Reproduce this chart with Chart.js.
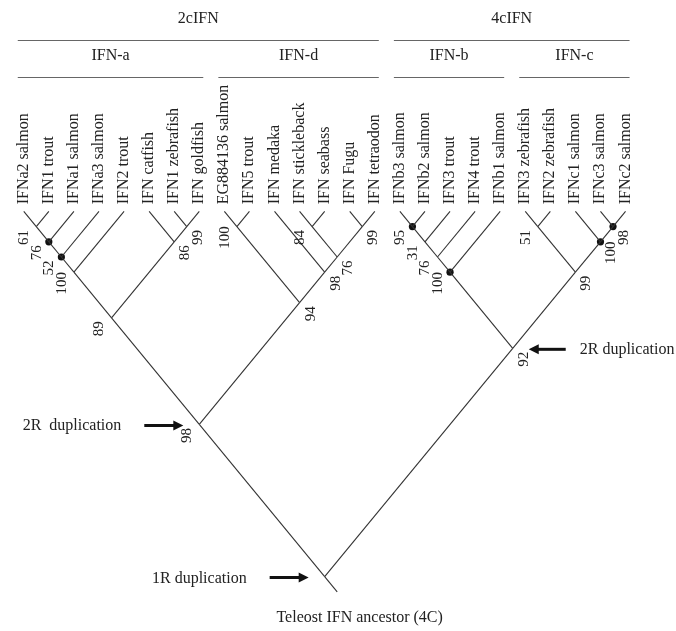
<!DOCTYPE html>
<html>
<head>
<meta charset="utf-8">
<title>Árbol de IFN en teleósteos</title>
<script src="https://cdn.jsdelivr.net/npm/chart.js@4.4.1/dist/chart.umd.min.js"></script>
<style>
  body { margin: 0; background: #fff; }
  canvas { display: block; }
</style>
</head>
<body>
<canvas id="arbolChart" width="676" height="631"></canvas>
<script>
// Hojas del árbol, de izquierda a derecha
const hojas = [
    'IFNa2 salmon', 'IFN1 trout', 'IFNa1 salmon', 'IFNa3 salmon', 'IFN2 trout',
    'IFN catfish', 'IFN1 zebrafish', 'IFN goldfish',
    'EG884136 salmon', 'IFN5 trout', 'IFN medaka', 'IFN stickleback', 'IFN seabass', 'IFN Fugu', 'IFN tetraodon',
    'IFNb3 salmon', 'IFNb2 salmon', 'IFN3 trout', 'IFN4 trout', 'IFNb1 salmon',
    'IFN3 zebrafish', 'IFN2 zebrafish', 'IFNc1 salmon', 'IFNc3 salmon', 'IFNc2 salmon'
];

// Nodos internos: primera y última hoja del clado, valor bootstrap y punto negro
const cladoInicio = [0, 0, 0, 0, 6, 5, 0, 8, 11, 13, 11, 10, 8, 0, 15, 15, 15, 15, 20, 23, 22, 20, 15, 0];
const cladoFin    = [1, 2, 3, 4, 7, 7, 7, 9, 12, 14, 14, 14, 14, 14, 16, 17, 18, 19, 21, 24, 24, 24, 24, 24];
const bootstrap   = [61, 76, 52, 100, 99, 86, 89, 100, 84, 99, 76, 98, 94, 98, 95, 31, 76, 100, 51, 98, 100, 99, 92, null];
const conPunto    = [false, true, true, false, false, false, false, false, false, false, false, false,
                     false, false, true, false, false, true, false, true, true, false, false, false];

// Grupos de la cabecera (rango de hojas)
const grupos1 = ['2cIFN', '4cIFN'];
const grupos1Rango = [[0, 14], [15, 24]];
const grupos2 = ['IFN-a', 'IFN-d', 'IFN-b', 'IFN-c'];
const grupos2Rango = [[0, 7], [8, 14], [15, 19], [20, 24]];

// Eventos de duplicación: texto, nodo interno y lado de la flecha
const eventos = ['2R  duplication', '2R duplication', '1R duplication'];
const eventosNodo = [13, 22, 23];
const eventosLado = ['left', 'right', 'left'];

const raizTexto = 'Teleost IFN ancestor (4C)';

const colorLinea = '#333';
const colorTexto = '#222';
const fuente = '"Liberation Serif", "Times New Roman", serif';

// Construir nodos: hojas + clados
let nodos = hojas.map((h, i) => ({ ini: i, fin: i, nombre: h }));
cladoInicio.forEach((a, k) => {
    nodos.push({ ini: a, fin: cladoFin[k], soporte: bootstrap[k], punto: conPunto[k] });
});
// Cladograma inclinado: posición a partir de la primera y última hoja
nodos.forEach(n => {
    n.x = (n.ini + n.fin) / 2;
    n.y = (n.fin - n.ini) / 2;
});
// Buscar el padre (el clado más pequeño que lo contiene)
nodos.forEach(n => {
    let padre = null;
    nodos.forEach(m => {
        if (m === n) return;
        if (m.ini <= n.ini && m.fin >= n.fin && (m.fin - m.ini) > (n.fin - n.ini)) {
            if (!padre || (m.fin - m.ini) < (padre.fin - padre.ini)) padre = m;
        }
    });
    n.padre = padre;
    n.lado = (padre && padre.ini === n.ini) ? 'L' : 'R';
});
const internos = nodos.slice(hojas.length);
const raiz = internos[internos.length - 1];

// Ramas como datasets de líneas
let datasets = [];
nodos.forEach(n => {
    if (!n.padre) return;
    datasets.push({
        data: [{ x: n.x, y: n.y }, { x: n.padre.x, y: n.padre.y }],
        showLine: true, borderColor: colorLinea, borderWidth: 1.1, pointRadius: 0
    });
});
// Tallo de la raíz
datasets.push({
    data: [{ x: raiz.x, y: raiz.y }, { x: raiz.x + 0.5, y: raiz.y + 0.5 }],
    showLine: true, borderColor: colorLinea, borderWidth: 1.1, pointRadius: 0
});
// Puntos negros
datasets.push({
    data: internos.filter(n => n.punto).map(n => ({ x: n.x, y: n.y })),
    showLine: false, pointRadius: 3.6, pointBackgroundColor: '#111', pointBorderWidth: 0
});

function flecha(ctx, x0, x1, y) {
    let dir = Math.sign(x1 - x0);
    ctx.strokeStyle = '#111';
    ctx.fillStyle = '#111';
    ctx.lineWidth = 3;
    ctx.beginPath();
    ctx.moveTo(x0, y);
    ctx.lineTo(x1 - dir * 7, y);
    ctx.stroke();
    ctx.beginPath();
    ctx.moveTo(x1, y);
    ctx.lineTo(x1 - dir * 10, y - 5);
    ctx.lineTo(x1 - dir * 10, y + 5);
    ctx.closePath();
    ctx.fill();
}

// Plugin para textos, cabeceras y flechas
const textosPlugin = {
    id: 'textosArbol',
    afterDatasetsDraw(chart) {
        const ctx = chart.ctx;
        const sx = chart.scales.x, sy = chart.scales.y;
        const px = v => sx.getPixelForValue(v);
        const py = v => sy.getPixelForValue(v);
        ctx.save();
        ctx.fillStyle = colorTexto;

        // Nombres de las hojas (girados)
        ctx.font = '16px ' + fuente;
        ctx.textAlign = 'left';
        ctx.textBaseline = 'alphabetic';
        hojas.forEach((h, i) => {
            ctx.save();
            ctx.translate(px(i) + 4, py(0) - 7);
            ctx.rotate(-Math.PI / 2);
            ctx.fillText(h, 0, 0);
            ctx.restore();
        });

        // Valores bootstrap
        ctx.font = '15px ' + fuente;
        ctx.textAlign = 'center';
        ctx.textBaseline = 'middle';
        internos.forEach(n => {
            if (n.soporte == null) return;
            let dx = n.lado === 'L' ? -12 : 11;
            ctx.save();
            ctx.translate(px(n.x) + dx, py(n.y) + 11);
            ctx.rotate(-Math.PI / 2);
            ctx.fillText(String(n.soporte), 0, 0);
            ctx.restore();
        });

        // Cabeceras
        ctx.strokeStyle = '#666';
        ctx.lineWidth = 1;
        ctx.font = '16px ' + fuente;
        ctx.textAlign = 'center';
        ctx.textBaseline = 'alphabetic';
        function cabecera(nombres, rangos, yLinea, yTexto) {
            nombres.forEach((g, k) => {
                let x0 = px(rangos[k][0]) - 6, x1 = px(rangos[k][1]) + 4;
                ctx.beginPath();
                ctx.moveTo(x0, yLinea + 0.5);
                ctx.lineTo(x1, yLinea + 0.5);
                ctx.stroke();
                ctx.fillText(g, (x0 + x1) / 2, yTexto);
            });
        }
        cabecera(grupos1, grupos1Rango, 40, 23);
        cabecera(grupos2, grupos2Rango, 77, 60);

        // Eventos de duplicación
        eventos.forEach((t, k) => {
            let n = internos[eventosNodo[k]];
            let nx = px(n.x), ny = py(n.y) + 1;
            ctx.fillStyle = colorTexto;
            if (eventosLado[k] === 'left') {
                flecha(ctx, nx - 55, nx - 16, ny);
                ctx.fillStyle = colorTexto;
                ctx.textAlign = 'right';
                ctx.fillText(t, nx - 78, ny + 5);
            } else {
                flecha(ctx, nx + 53, nx + 16, ny);
                ctx.fillStyle = colorTexto;
                ctx.textAlign = 'left';
                ctx.fillText(t, nx + 67, ny + 5);
            }
        });

        // Ancestro
        ctx.textAlign = 'center';
        ctx.fillText(raizTexto, px(raiz.x) + 35, py(raiz.y) + 45);
        ctx.restore();
    }
};

// Escalas: 25.375 px por hoja, 30.83 px por unidad de altura
const xMin = -20 / 25.375, xMax = xMin + 676 / 25.375;
const yMin = -210 / 30.83, yMax = yMin + 631 / 30.83;

const ctxArbol = document.getElementById('arbolChart').getContext('2d');
new Chart(ctxArbol, {
    type: 'scatter',
    data: { datasets: datasets },
    options: {
        responsive: false,
        animation: false,
        layout: { padding: 0 },
        plugins: {
            legend: { display: false },
            tooltip: { enabled: false }
        },
        scales: {
            x: { type: 'linear', display: false, min: xMin, max: xMax },
            y: { type: 'linear', display: false, reverse: true, min: yMin, max: yMax }
        }
    },
    plugins: [textosPlugin]
});
</script>
</body>
</html>
